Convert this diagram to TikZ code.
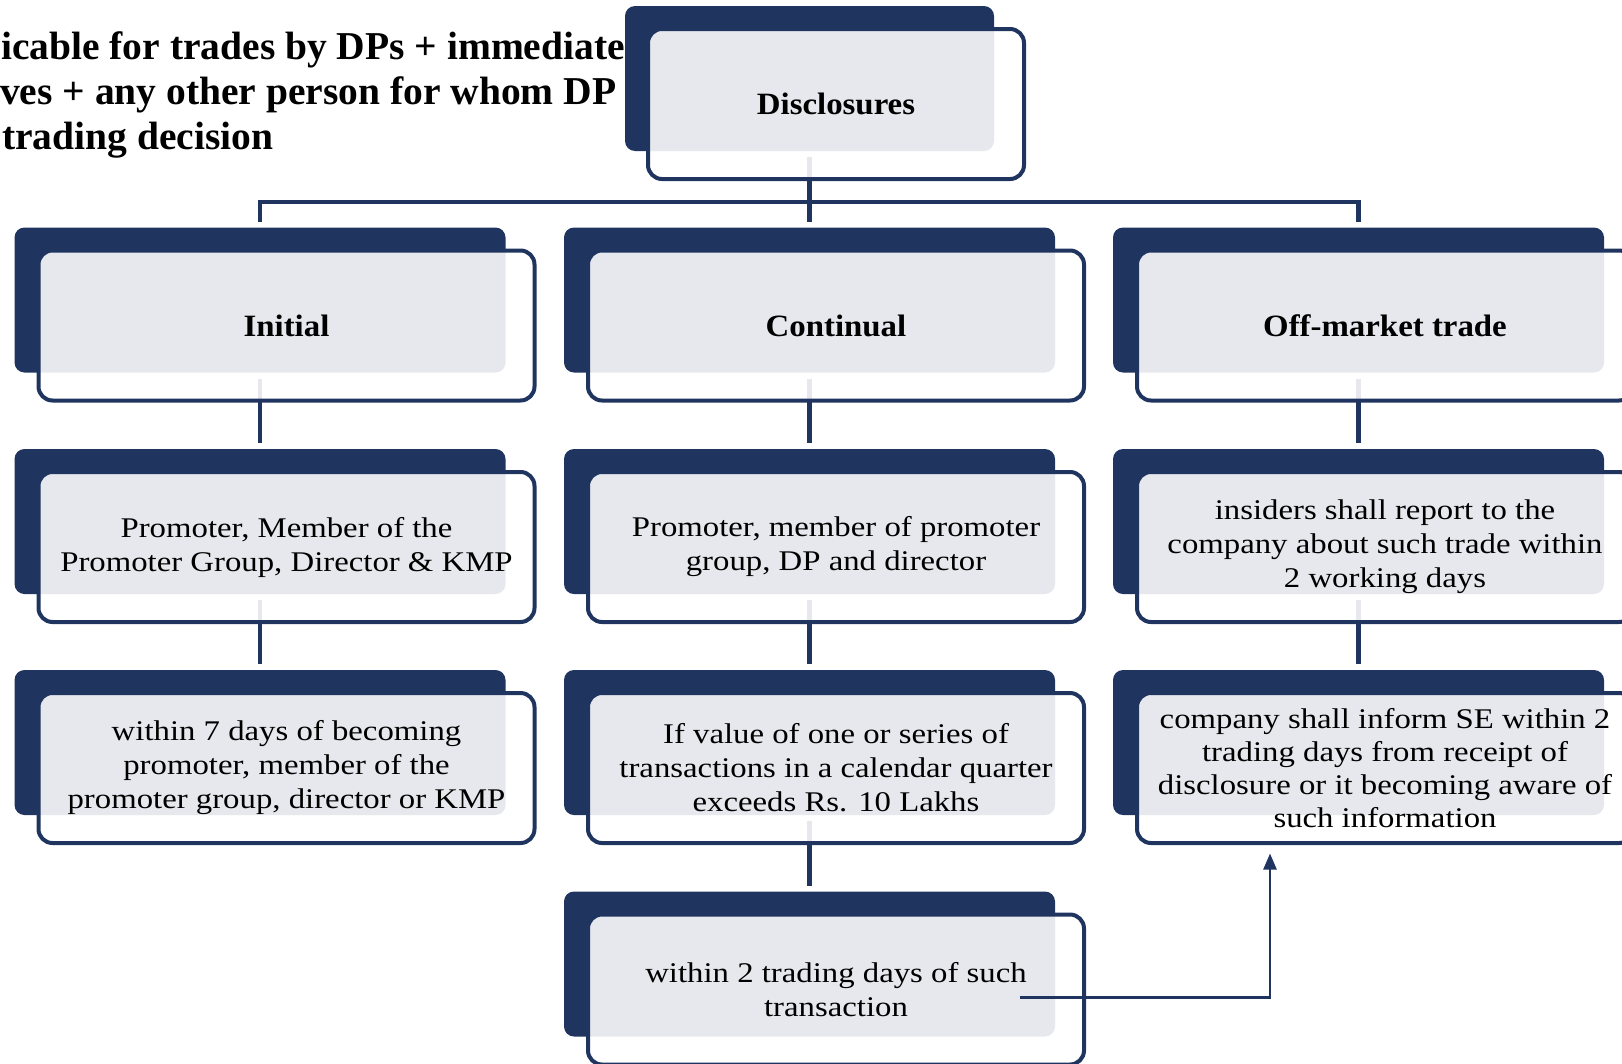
\documentclass[tikz,border=0pt]{standalone}
\usepackage{fontspec}
\setmainfont{Liberation Serif}[FakeStretch=1.15]
\newfontfamily\headfont{Liberation Serif}[FakeStretch=1.06]
\newfontfamily\notefont{Liberation Serif}
\usetikzlibrary{arrows.meta,backgrounds}
\definecolor{navy}{HTML}{1F3560}
\tikzset{
  backcard/.style={fill=navy, rounded corners=10pt, minimum width=491pt,
    minimum height=145pt, inner sep=0pt, outer sep=0pt},
  frontcard/.style={draw=navy, line width=4pt, fill=white, fill opacity=0.89,
    text opacity=1, rounded corners=14pt, minimum width=496pt,
    minimum height=150pt, inner sep=0pt, align=center,
    font=\fontsize{28.5}{34}\selectfont},
  headcard/.style={frontcard, font=\headfont\fontsize{31}{36}\selectfont\bfseries},
  note/.style={inner sep=0pt, font=\notefont\fontsize{39.5}{45}\selectfont\bfseries},
  conn/.style={draw=navy, line width=4.5pt},
  link/.style={draw=navy, line width=2.5pt, -{Triangle[length=16pt,width=13pt]}},
}
% dark backing card plus translucent outlined card offset to the lower right
\newcommand{\cardpair}[5]{%
  \node[backcard] (#1-b) at (#2,#3) {};
  \node[#4] (#1) at (#2+26.5,#3+25.5) {#5};
}
\begin{document}
\begin{tikzpicture}[x=1pt,y=-1pt]
\useasboundingbox (0,0) rectangle (1622,1063);
\clip (0,0) rectangle (1622,1063);

% note in the upper left
\node[note, anchor=base west] (note1) at (1,59) {icable for trades by DPs + immediate};
\node[note, anchor=base west] (note2) at (0,104) {ves + any other person for whom DP};
\node[note, anchor=base west] (note3) at (2,149) {trading decision};

% root
\node[backcard, minimum width=369pt] (dis-b) at (809.5,78.5) {};
\node[headcard, minimum width=376pt] (dis) at (836,104) {Disclosures};

% first level
\cardpair{ini}{260}{300}{headcard}{Initial}
\cardpair{con}{809.5}{300}{headcard}{Continual}
\cardpair{off}{1358.5}{300}{headcard}{Off-market trade}

% second level
\cardpair{ini2}{260}{521.5}{frontcard}{Promoter, Member of the\\Promoter Group, Director \& KMP}
\cardpair{con2}{809.5}{521.5}{frontcard}{Promoter, member of promoter\\group, DP and director}
\cardpair{off2}{1358.5}{521.5}{frontcard}{insiders shall report to the\\company about such trade within\\2 working days}

% third level
\cardpair{ini3}{260}{742.5}{frontcard}{within 7 days of becoming\\promoter, member of the\\promoter group, director or KMP}
\cardpair{con3}{809.5}{742.5}{frontcard}{If value of one or series of\\transactions in a calendar quarter\\exceeds Rs. 10 Lakhs}
\cardpair{off3}{1358.5}{742.5}{frontcard, font=\fontsize{28.5}{33}\selectfont}{company shall inform SE within 2\\trading days from receipt of\\disclosure or it becoming aware of\\such information}

% fourth level
\cardpair{con4}{809.5}{964}{frontcard}{within 2 trading days of such\\transaction}

% tree connectors, behind the cards
\begin{pgfonlayer}{background}
  \coordinate (bus) at ([yshift=-51pt]dis-b.south);
  \draw[conn] ([yshift=-6pt]dis-b.south) -- ([yshift=6pt]con-b.north);
  \draw[conn] ([yshift=6pt]ini-b.north) |- (bus) -| ([yshift=6pt]off-b.north);
  \draw[conn] ([yshift=-6pt]ini-b.south) -- ([yshift=6pt]ini2-b.north);
  \draw[conn] ([yshift=-6pt]ini2-b.south) -- ([yshift=6pt]ini3-b.north);
  \draw[conn] ([yshift=-6pt]con-b.south) -- ([yshift=6pt]con2-b.north);
  \draw[conn] ([yshift=-6pt]con2-b.south) -- ([yshift=6pt]con3-b.north);
  \draw[conn] ([yshift=-6pt]con3-b.south) -- ([yshift=6pt]con4-b.north);
  \draw[conn] ([yshift=-6pt]off-b.south) -- ([yshift=6pt]off2-b.north);
  \draw[conn] ([yshift=-6pt]off2-b.south) -- ([yshift=6pt]off3-b.north);
\end{pgfonlayer}

% link from the trading-day card up to the exchange notice
\coordinate (tx) at ([xshift=183.5pt,yshift=-8pt]con4.center);
\draw[link] (tx) -| ([xshift=-115pt,yshift=-8.5pt]off3.south);
\end{tikzpicture}
\end{document}
